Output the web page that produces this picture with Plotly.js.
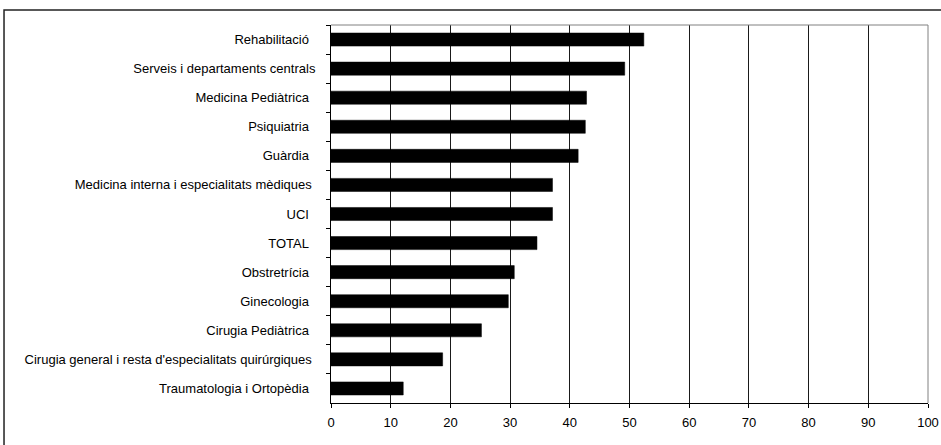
<!DOCTYPE html>
<html>
<head>
<meta charset="utf-8">
<script src="https://cdn.plot.ly/plotly-3.0.1.min.js"></script>
<style>
html,body{margin:0;padding:0;background:#fff;}
#chart{width:941px;height:445px;}
</style>
</head>
<body>
<div id="chart"></div>
<script>
const categories = [
  "Rehabilitació\u2002",
  "Serveis i departaments centrals",
  "Medicina Pediàtrica\u2002",
  "Psiquiatria\u2002",
  "Guàrdia\u2002",
  "Medicina interna i especialitats mèdiques\u00a0",
  "UCI\u2002",
  "TOTAL\u2002",
  "Obstretrícia\u2002",
  "Ginecologia\u2002",
  "Cirugia Pediàtrica\u2002",
  "Cirugia general i resta d'especialitats quirúrgiques\u00a0",
  "Traumatologia i Ortopèdia\u2002"
];
const values = [52.4, 49.2, 42.8, 42.6, 41.4, 37.1, 37.1, 34.5, 30.7, 29.7, 25.2, 18.7, 12.1];
const xTicks = [0,10,20,30,40,50,60,70,80,90,100];

const trace = {
  type: 'bar',
  orientation: 'h',
  y: categories,
  x: values,
  width: 0.45,
  marker: {color: '#000000', line: {color: '#000000', width: 0.5}},
  hoverinfo: 'x+y'
};

const layout = {
  width: 941, height: 445,
  margin: {l: 331, r: 13, t: 25, b: 42, pad: 0},
  paper_bgcolor: '#ffffff',
  plot_bgcolor: '#ffffff',
  showlegend: false,
  font: {family: 'Liberation Sans, Arial, sans-serif', size: 13, color: '#000'},
  xaxis: {
    range: [0, 100],
    tickvals: xTicks,
    ticktext: xTicks.map(String),
    showgrid: true, gridcolor: '#1a1a1a', gridwidth: 1,
    showline: true, linecolor: '#000', linewidth: 1,
    ticks: 'outside', ticklen: 4, tickcolor: '#000', tickwidth: 1,
    ticklabelstandoff: 3,
    zeroline: false,
    tickfont: {size: 13}
  },
  yaxis: {
    autorange: 'reversed',
    type: 'category',
    showgrid: false,
    showline: true, linecolor: '#000', linewidth: 1,
    ticks: 'outside', tickson: 'boundaries', ticklen: 4, tickcolor: '#000',
    ticklabelstandoff: 12,
    zeroline: false,
    tickfont: {size: 13}
  },
  shapes: [
    {type: 'line', xref: 'paper', yref: 'paper', x0: 0, x1: 1, y0: 1, y1: 1,
     line: {color: '#808080', width: 1}},
    {type: 'line', xref: 'paper', yref: 'paper', x0: 1, x1: 1, y0: 0, y1: 1,
     line: {color: '#808080', width: 1}},
    {type: 'rect', xref: 'paper', yref: 'paper', x0: -0.5477, x1: 1.2, y0: -0.3, y1: 1.0397,
     line: {color: '#222', width: 1.5}, fillcolor: 'rgba(0,0,0,0)'}
  ]
};

Plotly.newPlot('chart', [trace], layout, {displayModeBar: false, staticPlot: true});
</script>
</body>
</html>
